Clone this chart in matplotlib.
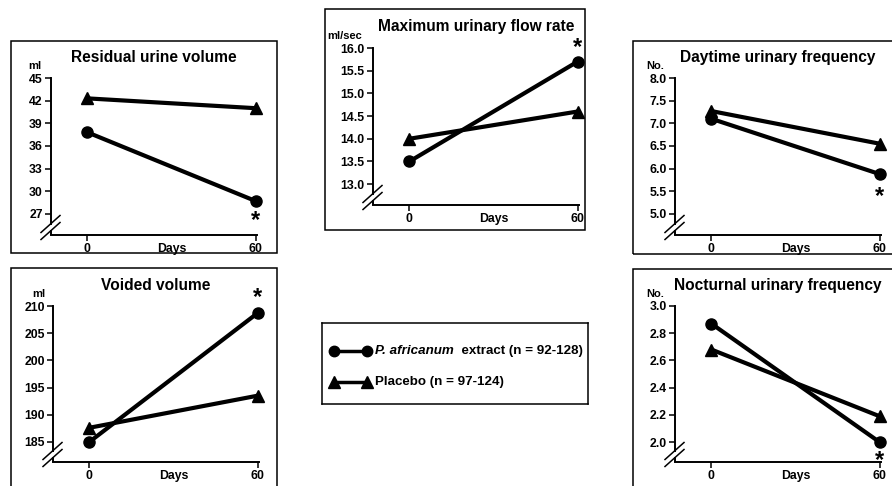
"""
Five-panel chart: P. africanum extract vs placebo, day 0 vs day 60.
Panels drawn in boxes with broken y-axes, legend in its own box.
"""

import matplotlib
matplotlib.use('Agg')
import matplotlib.pyplot as plt
import matplotlib.transforms as mtransforms
from matplotlib.patches import Rectangle
from matplotlib.ticker import FormatStrFormatter

plt.rcParams['font.family'] = ['Liberation Sans', 'DejaVu Sans']
plt.rcParams['font.weight'] = 'bold'

W, H = 892, 486

# data
days = [0, 60]

residual_extract = [37.8, 28.7]
residual_placebo = [42.3, 41.0]
residual_ticks = [27, 30, 33, 36, 39, 42, 45]

flow_extract = [13.5, 15.7]
flow_placebo = [14.0, 14.6]
flow_ticks = [13.0, 13.5, 14.0, 14.5, 15.0, 15.5, 16.0]

daytime_extract = [7.1, 5.88]
daytime_placebo = [7.27, 6.55]
daytime_ticks = [5.0, 5.5, 6.0, 6.5, 7.0, 7.5, 8.0]

voided_extract = [185.0, 208.7]
voided_placebo = [187.6, 193.5]
voided_ticks = [185, 190, 195, 200, 205, 210]

nocturnal_extract = [2.87, 2.0]
nocturnal_placebo = [2.68, 2.19]
nocturnal_ticks = [2.0, 2.2, 2.4, 2.6, 2.8, 3.0]

titles = ['Residual urine volume', 'Maximum urinary flow rate',
          'Daytime urinary frequency', 'Voided volume',
          'Nocturnal urinary frequency']
units = ['ml', 'ml/sec', 'No.', 'ml', 'No.']
extract_label = 'P. africanum'
extract_rest = '  extract (n = 92-128)'
placebo_label = 'Placebo (n = 97-124)'

fig = plt.figure(figsize=(W / 100, H / 100), dpi=100)


def add_box(x0, y0, x1, y1):
    # frame drawn in figure pixels
    fig.patches.append(Rectangle((x0 / W, 1 - y1 / H), (x1 - x0) / W, (y1 - y0) / H,
                                 transform=fig.transFigure, fill=False,
                                 lw=1.1, ec='black', zorder=0))


def panel(box, left, top, bottom, ylo, ticks, extract, placebo, title, unit,
          unit_dx, fmt, star_dy):
    add_box(*box)
    width = 206
    ax = fig.add_axes([left / W, 1 - bottom / H, width / W, (bottom - top) / H])
    ax.set_xlim(-13, 60.5)
    ax.set_ylim(ylo, ticks[-1])

    ax.plot(days, extract, color='black', lw=3, marker='o', ms=8, clip_on=False, zorder=3)
    ax.plot(days, placebo, color='black', lw=3, marker='^', ms=8.5, clip_on=False, zorder=3)

    for s in ['top', 'right']:
        ax.spines[s].set_visible(False)
    for s in ['left', 'bottom']:
        ax.spines[s].set_linewidth(1.4)

    # y axis break near the bottom
    h_px = bottom - top
    per_px = (ticks[-1] - ylo) / h_px
    yc = 8.0  # pixels above the bottom spine
    ax.spines['left'].set_bounds(ylo + (yc + 3) * per_px, ticks[-1])
    ax.plot([0, 0], [0, (yc - 3) / h_px], transform=ax.transAxes, color='black',
            lw=1.4, clip_on=False, solid_capstyle='butt')
    for off in (-3.5, 3.5):
        ax.plot([-10 / width, 9 / width],
                [(yc + off - 9) / h_px, (yc + off + 8) / h_px],
                transform=ax.transAxes, color='black', lw=1.1, clip_on=False)

    ax.set_yticks(ticks)
    ax.yaxis.set_major_formatter(FormatStrFormatter(fmt))
    ax.set_xticks(days)
    ax.set_xticks([30], ['Days'], minor=True)
    ax.tick_params(axis='both', which='major', direction='out', length=4.5, width=1.1,
                   labelsize=8.8, pad=1.5)
    ax.tick_params(axis='x', which='minor', length=0, labelsize=8.8, pad=6)
    for lab in ax.get_xticklabels(which='both') + ax.get_yticklabels():
        lab.set_fontweight('bold')

    to = mtransforms.ScaledTranslation
    ax.text(0.5, 1, title, transform=ax.transAxes + to(0, 0.21, fig.dpi_scale_trans),
            ha='center', va='center', fontsize=11.2, fontweight='bold')
    ax.text(0, 1, unit, transform=ax.transAxes + to(unit_dx / 100, 0.12, fig.dpi_scale_trans),
            ha='left', va='center', fontsize=8, fontweight='bold')

    ax.annotate('*', (days[1], extract[1]), xytext=(0, star_dy), textcoords='offset points',
                ha='center', va='center', fontsize=17, fontweight='bold')
    return ax


panel((11, 41, 277, 253), 51, 78, 235, 24.2, residual_ticks, residual_extract,
      residual_placebo, titles[0], units[0], -23, '%d', -14)
panel((325, 9, 585, 230), 373, 48, 205, 12.54, flow_ticks, flow_extract,
      flow_placebo, titles[1], units[1], -46, '%.1f', 10)
panel((633, 41, 900, 254), 675, 78, 235, 4.535, daytime_ticks, daytime_extract,
      daytime_placebo, titles[2], units[2], -29, '%.1f', -16)
panel((11, 268, 277, 500), 53, 306, 462, 181.3, voided_ticks, voided_extract,
      voided_placebo, titles[3], units[3], -21, '%d', 11)
panel((633, 269, 900, 500), 675, 306, 462, 1.854, nocturnal_ticks, nocturnal_extract,
      nocturnal_placebo, titles[4], units[4], -29, '%.1f', -13)

# legend box
lx0, ly0, lx1, ly1 = 322, 323, 588, 404
leg = fig.add_axes([lx0 / W, 1 - ly1 / H, (lx1 - lx0) / W, (ly1 - ly0) / H])
leg.set_xlim(0, 1)
leg.set_ylim(0, 1)
leg.set_xticks([])
leg.set_yticks([])
for s in leg.spines.values():
    s.set_linewidth(1.1)
leg.plot([0.045, 0.17], [0.66, 0.66], color='black', lw=2.5, marker='o', ms=7.5)
leg.plot([0.045, 0.17], [0.27, 0.27], color='black', lw=2.5, marker='^', ms=8)
t1 = leg.text(0.2, 0.66, extract_label, ha='left', va='center', fontsize=9.6,
              fontweight='bold', style='italic')
leg.annotate(extract_rest, xy=(1, 0.5), xycoords=t1, ha='left', va='center',
             fontsize=9.6, fontweight='bold')
leg.text(0.2, 0.27, placebo_label, ha='left', va='center', fontsize=9.6,
         fontweight='bold')

fig.savefig('out.png', dpi=100)
